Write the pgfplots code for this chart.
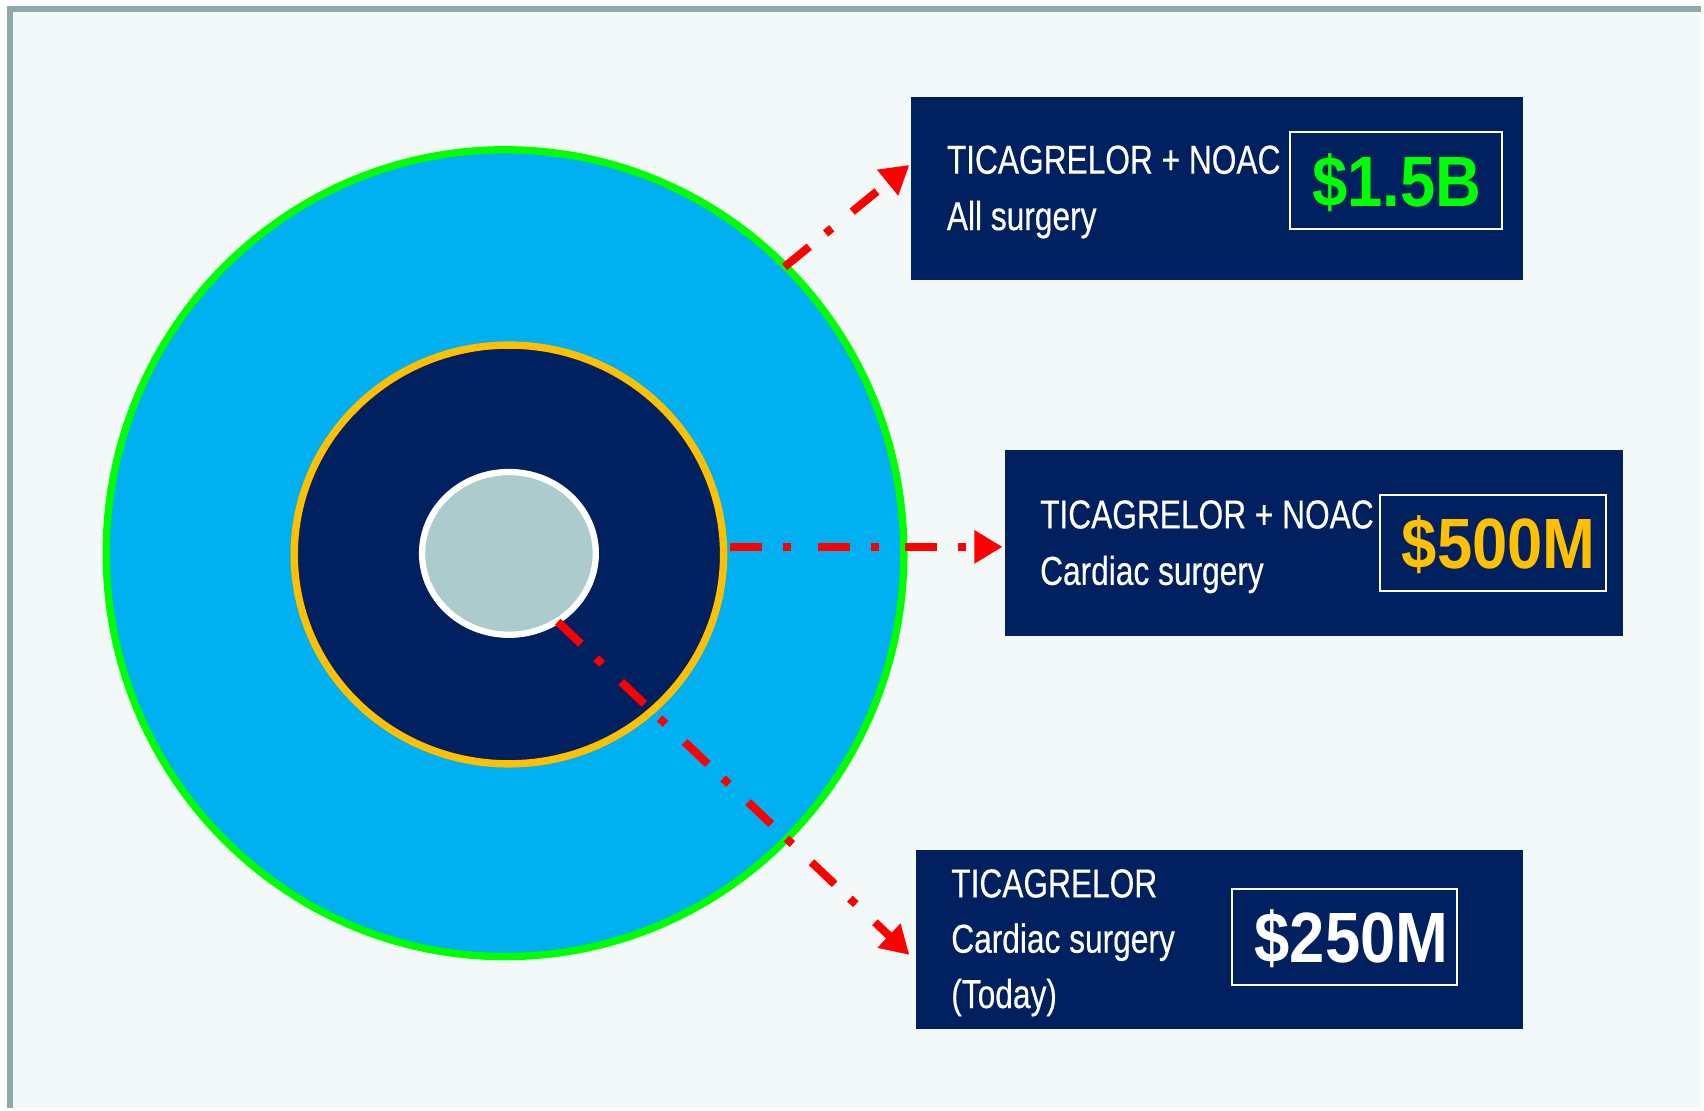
\documentclass[border=0pt]{standalone}
\usepackage{pgfplots}
\pgfplotsset{compat=1.18}
\usetikzlibrary{arrows.meta}
\usepackage{fontspec}
\setmainfont{Liberation Sans}
\newfontfamily\condfont{Liberation Sans}[FakeStretch=0.785, FakeBold=0.4]
\newfontfamily\valfont{Liberation Sans}[FakeStretch=0.89]
\definecolor{bgc}{HTML}{F3F8F8}
\definecolor{framec}{HTML}{8FA9AA}
\definecolor{navy}{HTML}{002060}
\definecolor{skyc}{HTML}{00B0F0}
\definecolor{ringg}{HTML}{00FF00}
\definecolor{ringo}{HTML}{FFC000}
\definecolor{corec}{HTML}{ABCBCC}
\begin{document}
\begin{tikzpicture}
\begin{axis}[
  width=17.04cm, height=11.10cm, scale only axis,
  xmin=0, xmax=1704, ymin=0, ymax=1110, y dir=reverse,
  hide axis, clip=false]
% background and frame
\fill[white] (axis cs:0,0) rectangle (axis cs:1704,1110);
\fill[bgc] (axis cs:10,9) rectangle (axis cs:1704,1110);
\draw[framec, line width=1.45pt, line cap=butt, line join=miter] (axis cs:10,1110) -- (axis cs:10,9) -- (axis cs:1704,9);
% circles
\draw[fill=skyc, draw=ringg, line width=2.1pt] (axis cs:505.8,554) ellipse [x radius=399.4, y radius=404];
\draw[fill=navy, draw=ringo, line width=2.1pt] (axis cs:509.7,555.3) ellipse [x radius=215, y radius=209.7];
\draw[fill=corec, draw=white, line width=1.8pt] (axis cs:509.7,554.2) ellipse [x radius=87, y radius=81.5];
% boxes
\fill[navy] (axis cs:912.8,96.7) rectangle (axis cs:1525.7,280.4);
\fill[navy] (axis cs:1006.3,451) rectangle (axis cs:1625.7,636.8);
\fill[navy] (axis cs:917.2,850.9) rectangle (axis cs:1525.7,1030.2);
\draw[white, line width=0.6pt] (axis cs:1292,132.6) rectangle (axis cs:1504,229.3);
\draw[white, line width=0.6pt] (axis cs:1382.3,495.5) rectangle (axis cs:1608.3,592.3);
\draw[white, line width=0.6pt] (axis cs:1233.4,890) rectangle (axis cs:1459.4,986.7);
% arrows
\tikzset{dd/.style={red, line width=2.3pt, line cap=butt, dash pattern=on 9.1pt off 6pt on 2.3pt off 7.5pt, -{Triangle[length=8pt,width=9pt]}}}
\draw[dd] (axis cs:785.7,267.3) -- (axis cs:910.7,165.2);
\draw[dd] (axis cs:731.4,547.7) -- (axis cs:1004,547.7);
\draw[dd] (axis cs:558.6,622.7) -- (axis cs:910.7,956.3);
% texts
\tikzset{lab/.style={anchor=base west, inner sep=0pt, text=white, font=\condfont\fontsize{11.5}{13}\selectfont}}
\tikzset{val/.style={anchor=base, inner sep=0pt, font=\valfont\bfseries\fontsize{20.3}{24}\selectfont}}
\node[lab] at (axis cs:947.6,173.9) {TICAGRELOR + NOAC};
\node[lab] at (axis cs:947.6,230.4) {All surgery};
\node[val, text=ringg] at (axis cs:1399,206.5) {\$1.5B};
\node[lab] at (axis cs:1041,529.2) {TICAGRELOR + NOAC};
\node[lab] at (axis cs:1041,585.7) {Cardiac surgery};
\node[val, text=ringo] at (axis cs:1501,569.4) {\$500M};
\node[lab] at (axis cs:952,898.7) {TICAGRELOR};
\node[lab] at (axis cs:952,954.1) {Cardiac surgery};
\node[lab] at (axis cs:952,1009.5) {(Today)};
\node[val, text=white] at (axis cs:1353.5,963.9) {\$250M};
\end{axis}
\end{tikzpicture}
\end{document}
